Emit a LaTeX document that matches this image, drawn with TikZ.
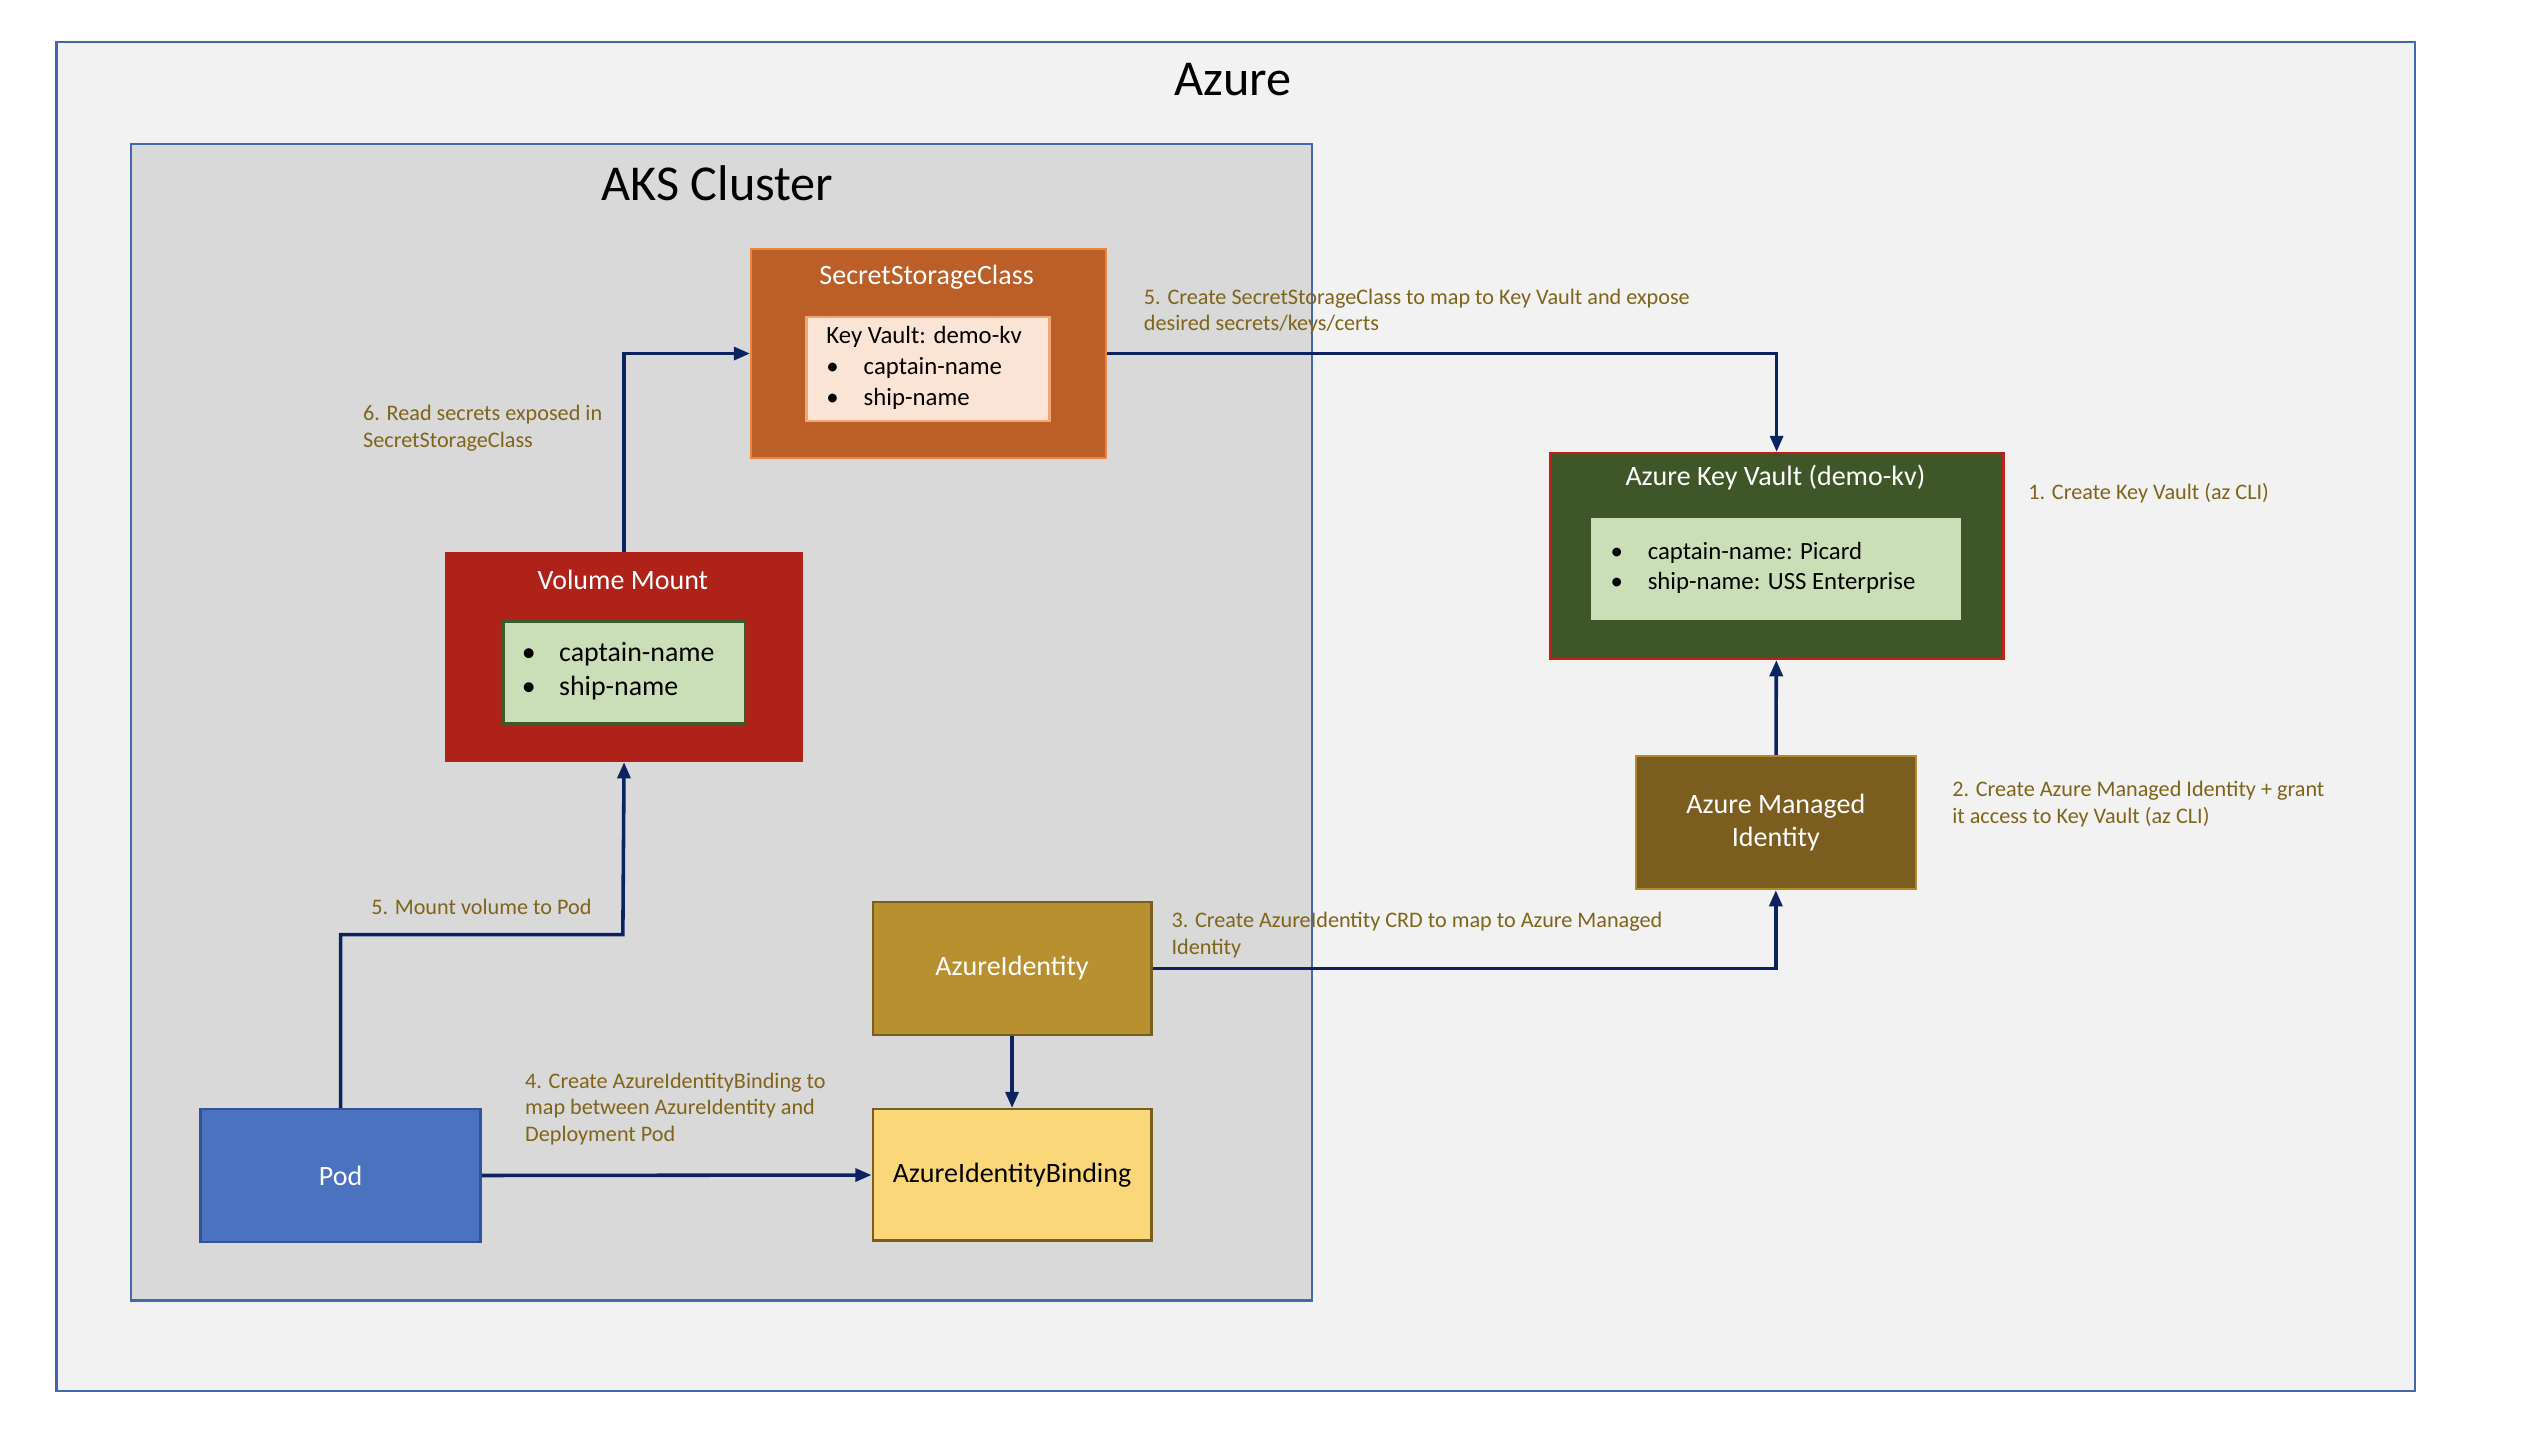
\documentclass[tikz,border=0pt]{standalone}
\usepackage{fontspec}
\setmainfont{Carlito}
\usetikzlibrary{positioning,calc,arrows.meta}

\definecolor{azurebg}{HTML}{F2F2F2}
\definecolor{clusterbg}{HTML}{D9D9D9}
\definecolor{frameblue}{HTML}{4468B0}
\definecolor{sscfill}{HTML}{BB5E28}
\definecolor{sscline}{HTML}{EC8442}
\definecolor{sscinfill}{HTML}{FAE4D5}
\definecolor{sscinline}{HTML}{F2A577}
\definecolor{vmfill}{HTML}{AE2219}
\definecolor{greenin}{HTML}{CADFB8}
\definecolor{greenline}{HTML}{3D5A2A}
\definecolor{kvfill}{HTML}{3F5629}
\definecolor{kvline}{HTML}{C0201A}
\definecolor{mifill}{HTML}{7B5E1F}
\definecolor{miline}{HTML}{B08A2C}
\definecolor{aidfill}{HTML}{B8902F}
\definecolor{aibfill}{HTML}{FAD87A}
\definecolor{goldline}{HTML}{7A5E1C}
\definecolor{podfill}{HTML}{4A72BE}
\definecolor{podline}{HTML}{2F5597}
\definecolor{arrowblue}{HTML}{0B2461}
\definecolor{stepbrown}{HTML}{7F6419}

\newcommand{\azbox}[7]{
	\node[#6, line width=1.5pt, minimum width=#4pt, minimum height=#5pt, anchor=north west, inner sep=0pt] (#1) at (#2pt,-#3pt) {#7};
}

\tikzset{
	azurebox/.style={fill=azurebg, draw=frameblue},
	clusterbox/.style={fill=clusterbg, draw=frameblue},
	sscbox/.style={fill=sscfill, draw=sscline},
	sscinner/.style={fill=sscinfill, draw=sscinline},
	vmbox/.style={fill=vmfill, draw=vmfill},
	vminner/.style={fill=greenin, draw=greenline, line width=2pt},
	kvbox/.style={fill=kvfill, draw=kvline},
	kvinner/.style={fill=greenin, draw=greenin},
	mibox/.style={fill=mifill, draw=miline, text=white, font=\fontsize{17.3}{20.5}\selectfont, align=center},
	aidbox/.style={fill=aidfill, draw=goldline, text=white, font=\fontsize{17.3}{20}\selectfont},
	aibbox/.style={fill=aibfill, draw=goldline, text=black, font=\fontsize{17.3}{20}\selectfont},
	podbox/.style={fill=podfill, draw=podline, text=white, font=\fontsize{17.3}{20}\selectfont},
	bigtitle/.style={font=\fontsize{31}{35}\selectfont, inner sep=0pt},
	boxtitle/.style={text=white, font=\fontsize{17.3}{20}\selectfont, inner sep=0pt},
	stepnote/.style={text=stepbrown, font=\fontsize{13.7}{16.4}\selectfont, align=left, anchor=north west, inner sep=0pt},
	arr/.style={draw=arrowblue, line width=2.2pt, -{Triangle[length=10pt,width=8pt]}},
}
\newcommand{\bul}{\makebox[23pt][l]{•}}

\begin{document}
\begin{tikzpicture}
	\useasboundingbox (0,0) rectangle (1568pt,-897.6pt);
	\fill[white] (0,0) rectangle (1568pt,-897.6pt);

	% frames
	\azbox{azure}{34}{25}{1456}{833}{azurebox}{};
	\node[bigtitle] (azure_t) at (761pt,-49pt) {Azure};
	\azbox{aks}{80}{88}{729}{714}{clusterbox}{};
	\node[bigtitle] (aks_t) at (443pt,-113pt) {AKS Cluster};

	% SecretStorageClass
	\azbox{ssc}{463}{153}{219}{129}{sscbox}{};
	\node[boxtitle] (ssc_t) at (572pt,-171pt) {SecretStorageClass};
	\azbox{ssc_in}{497}{195}{150}{64}{sscinner}{};
	\node[font=\fontsize{15.3}{19}\selectfont, align=left, anchor=west, inner sep=0pt] (ssc_txt) at (510pt,-227pt)
		{Key Vault: demo-kv\\\bul captain-name\\\bul ship-name};

	% Volume Mount
	\azbox{vm}{275}{341}{219}{128}{vmbox}{};
	\node[boxtitle] (vm_t) at (384.5pt,-358pt) {Volume Mount};
	\azbox{vm_in}{310}{383}{149}{63}{vminner}{};
	\node[font=\fontsize{17.2}{21}\selectfont, align=left, anchor=west, inner sep=0pt] (vm_txt) at (322pt,-414.5pt)
		{\bul captain-name\\\bul ship-name};

	% Key Vault
	\azbox{kv}{956}{279}{280}{127}{kvbox}{};
	\node[boxtitle] (kv_t) at (1096pt,-295pt) {Azure Key Vault (demo-kv)};
	\azbox{kv_in}{982}{320}{227}{61}{kvinner}{};
	\node[font=\fontsize{15.3}{19}\selectfont, align=left, anchor=west, inner sep=0pt] (kv_txt) at (994pt,-350.5pt)
		{\bul captain-name: Picard\\\bul ship-name: USS Enterprise};

	% identities and pod
	\azbox{mi}{1009}{466}{173}{82}{mibox}{Azure Managed\\Identity};
	\azbox{aid}{538}{556}{172}{82}{aidbox}{AzureIdentity};
	\azbox{aib}{538}{684}{172}{81}{aibbox}{AzureIdentityBinding};
	\azbox{pod}{123}{684}{173}{82}{podbox}{Pod};

	% connectors
	\coordinate (mnt) at (384.5pt,-577pt);
	\draw[arr] (ssc) -| (kv);
	\draw[arr] (vm) |- (ssc);
	\draw[arr] (pod.north) |- (mnt) -- (vm.south);
	\draw[arr] (aid) -| (mi);
	\draw[arr] (mi) -- (kv);
	\draw[arr] (aid) -- (aib);
	\draw[arr] (pod) -- (aib);

	% step notes
	\node[stepnote] (n1) at (1252pt,-298pt) {1. Create Key Vault (az CLI)};
	\node[stepnote] (n2) at (1205pt,-482pt) {2. Create Azure Managed Identity + grant\\it access to Key Vault (az CLI)};
	\node[stepnote] (n3) at (723pt,-563pt) {3. Create AzureIdentity CRD to map to Azure Managed\\Identity};
	\node[stepnote] (n4) at (324pt,-662pt) {4. Create AzureIdentityBinding to\\map between AzureIdentity and\\Deployment Pod};
	\node[stepnote] (n5a) at (706pt,-178pt) {5. Create SecretStorageClass to map to Key Vault and expose\\desired secrets/keys/certs};
	\node[stepnote] (n5b) at (229pt,-555pt) {5. Mount volume to Pod};
	\node[stepnote] (n6) at (224pt,-250pt) {6. Read secrets exposed in\\SecretStorageClass};
\end{tikzpicture}
\end{document}
